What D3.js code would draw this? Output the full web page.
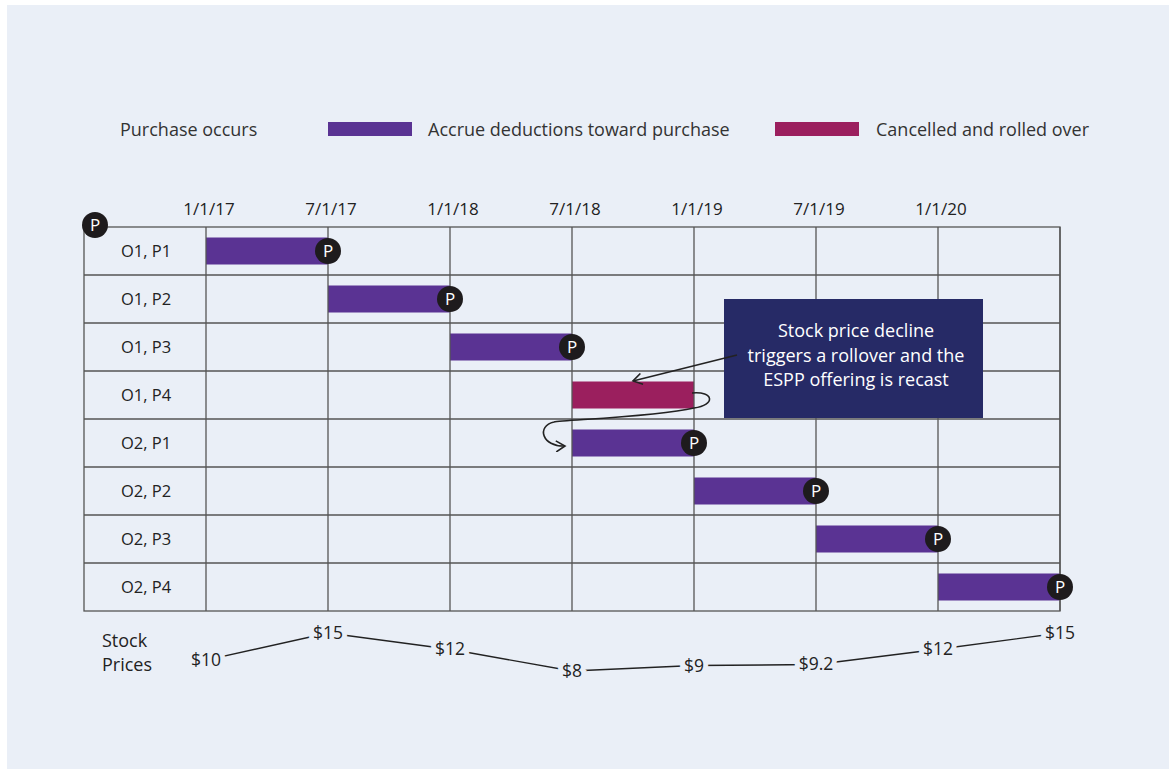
<!DOCTYPE html>
<html><head><meta charset="utf-8">
<script src="https://cdn.jsdelivr.net/npm/d3@7"></script>
<style>
html,body{margin:0;padding:0;background:#fff;}
svg{display:block;font-family:"Open Sans","Noto Sans",sans-serif;}
</style></head>
<body>
<svg id="c" width="1169" height="769"></svg>
<script>
// ---- data ----
const categories = ["O1, P1","O1, P2","O1, P3","O1, P4","O2, P1","O2, P2","O2, P3","O2, P4"];
const periods = ["1/1/17","7/1/17","1/1/18","7/1/18","1/1/19","7/1/19","1/1/20","7/1/20"];
const tickLabels = ["1/1/17","7/1/17","1/1/18","7/1/18","1/1/19","7/1/19","1/1/20",""];
const barStart = ["1/1/17","7/1/17","1/1/18","7/1/18","7/1/18","1/1/19","7/1/19","1/1/20"];
const barEnd   = ["7/1/17","1/1/18","7/1/18","1/1/19","1/1/19","7/1/19","1/1/20","7/1/20"];
const barStatus = ["accrue","accrue","accrue","cancel","accrue","accrue","accrue","accrue"];
const prices = [10,15,12,8,9,9.2,12,15];
const legendItems = ["Purchase occurs","Accrue deductions toward purchase","Cancelled and rolled over"];
const noteLines = ["Stock price decline","triggers a rollover and the","ESPP offering is recast"];

const colors = {accrue:"#5a3393", cancel:"#9b1f5e"};
const svg = d3.select("#c");

svg.append("rect").attr("x",7).attr("y",5).attr("width",1162).attr("height",764).attr("fill","#eaeff7");

const x = d3.scalePoint().domain(periods).range([206,1060]);
const y = d3.scaleBand().domain(categories).range([227,611]);
const yp = d3.scaleLinear().domain([8,15]).range([671,633]);
const gridLeft = 84;

// legend
const lg = svg.append("g").attr("fill","#333").attr("font-size",18);
lg.append("text").attr("x",120).attr("y",136).text(legendItems[0]);
lg.append("rect").attr("x",328).attr("y",122).attr("width",84).attr("height",14).attr("fill",colors.accrue);
lg.append("text").attr("x",428).attr("y",136).text(legendItems[1]);
lg.append("rect").attr("x",775).attr("y",122).attr("width",84).attr("height",14).attr("fill",colors.cancel);
lg.append("text").attr("x",876).attr("y",136).text(legendItems[2]);

// bars
const barH = 27;
svg.append("g").selectAll("rect").data(categories).join("rect")
  .attr("x",(d,i)=>x(barStart[i]))
  .attr("y",d=>y(d)+(y.bandwidth()-barH)/2)
  .attr("width",(d,i)=>x(barEnd[i])-x(barStart[i]))
  .attr("height",barH)
  .attr("fill",(d,i)=>colors[barStatus[i]]);

// grid
const grid = svg.append("g").attr("stroke","#555").attr("stroke-width",1.3).attr("fill","none");
grid.append("rect").attr("x",gridLeft).attr("y",y.range()[0]).attr("width",x.range()[1]-gridLeft).attr("height",y.range()[1]-y.range()[0]);
grid.selectAll("line.v").data(periods).join("line").attr("class","v")
  .attr("x1",d=>x(d)).attr("x2",d=>x(d)).attr("y1",y.range()[0]).attr("y2",y.range()[1]);
grid.selectAll("line.h").data(categories.slice(1)).join("line").attr("class","h")
  .attr("x1",gridLeft).attr("x2",x.range()[1]).attr("y1",d=>y(d)).attr("y2",d=>y(d));

// tick labels
svg.append("g").attr("font-size",17).attr("fill","#222").attr("text-anchor","middle")
  .selectAll("text").data(periods).join("text")
  .attr("x",d=>x(d)+3).attr("y",215).text((d,i)=>tickLabels[i]);

// row labels
svg.append("g").attr("font-size",16.5).attr("fill","#222").attr("text-anchor","middle")
  .selectAll("text").data(categories).join("text")
  .attr("x",(gridLeft+x.range()[0])/2+1).attr("y",d=>y(d)+y.bandwidth()/2+6).text(d=>d);

// purchase markers
function marker(g,cx,cy){
  g.append("circle").attr("cx",cx).attr("cy",cy).attr("r",13).attr("fill","#1e1b1d");
  g.append("text").attr("x",cx).attr("y",cy+6).attr("text-anchor","middle").attr("fill","#fff").attr("font-size",17).text("P");
}
const mg = svg.append("g");
categories.forEach((c,i)=>{ if(barStatus[i]==="accrue") marker(mg,x(barEnd[i]),y(c)+y.bandwidth()/2); });
marker(mg,95,225);

// annotation
svg.append("rect").attr("x",724).attr("y",299).attr("width",259).attr("height",119).attr("fill","#262a66");
svg.append("g").attr("fill","#fff").attr("font-size",18).attr("text-anchor","middle")
  .selectAll("text").data(noteLines).join("text")
  .attr("x",856).attr("y",(d,i)=>337+i*24.5).text(d=>d);

const defs = svg.append("defs");
defs.append("marker").attr("id","ah").attr("viewBox","-10 -6 12 12").attr("refX",0).attr("refY",0)
  .attr("markerWidth",12).attr("markerHeight",12).attr("markerUnits","userSpaceOnUse").attr("orient","auto")
  .append("path").attr("d","M-9,-5.5 L0,0 L-9,5.5").attr("fill","none").attr("stroke","#222").attr("stroke-width",1.6);

svg.append("path").attr("d","M737,355 L633,381").attr("stroke","#222").attr("stroke-width",1.6).attr("fill","none").attr("marker-end","url(#ah)");
const rEnd = x(barEnd[3]), rY = y(categories[3])+y.bandwidth()/2;
svg.append("path")
  .attr("d",`M${rEnd-2},${rY-2} C${rEnd+20},${rY-4} ${rEnd+22},${rY+10} ${rEnd},${rY+13} C${rEnd-40},${rY+22} ${x(barStart[4])-10},${rY+25} ${x(barStart[4])-18},${rY+27} C${x(barStart[4])-36},${rY+31} ${x(barStart[4])-30},${rY+52} ${x(barStart[4])-7},${rY+51}`)
  .attr("stroke","#222").attr("stroke-width",1.6).attr("fill","none").attr("marker-end","url(#ah)");

// stock prices
svg.append("g").attr("font-size",18).attr("fill","#222")
  .selectAll("text").data(["Stock","Prices"]).join("text")
  .attr("x",102).attr("y",(d,i)=>647+i*24).text(d=>d);
const line = d3.line().x((d,i)=>x(periods[i])).y(d=>yp(d));
svg.append("path").attr("d",line(prices)).attr("fill","none").attr("stroke","#222").attr("stroke-width",1.4);
svg.append("g").attr("font-size",17.5).attr("fill","#222").attr("text-anchor","middle")
  .attr("stroke","#eaeff7").attr("stroke-width",10).attr("paint-order","stroke")
  .selectAll("text").data(prices).join("text")
  .attr("x",(d,i)=>x(periods[i])).attr("y",d=>yp(d)+6).text(d=>"$"+d);
</script>
</body></html>
